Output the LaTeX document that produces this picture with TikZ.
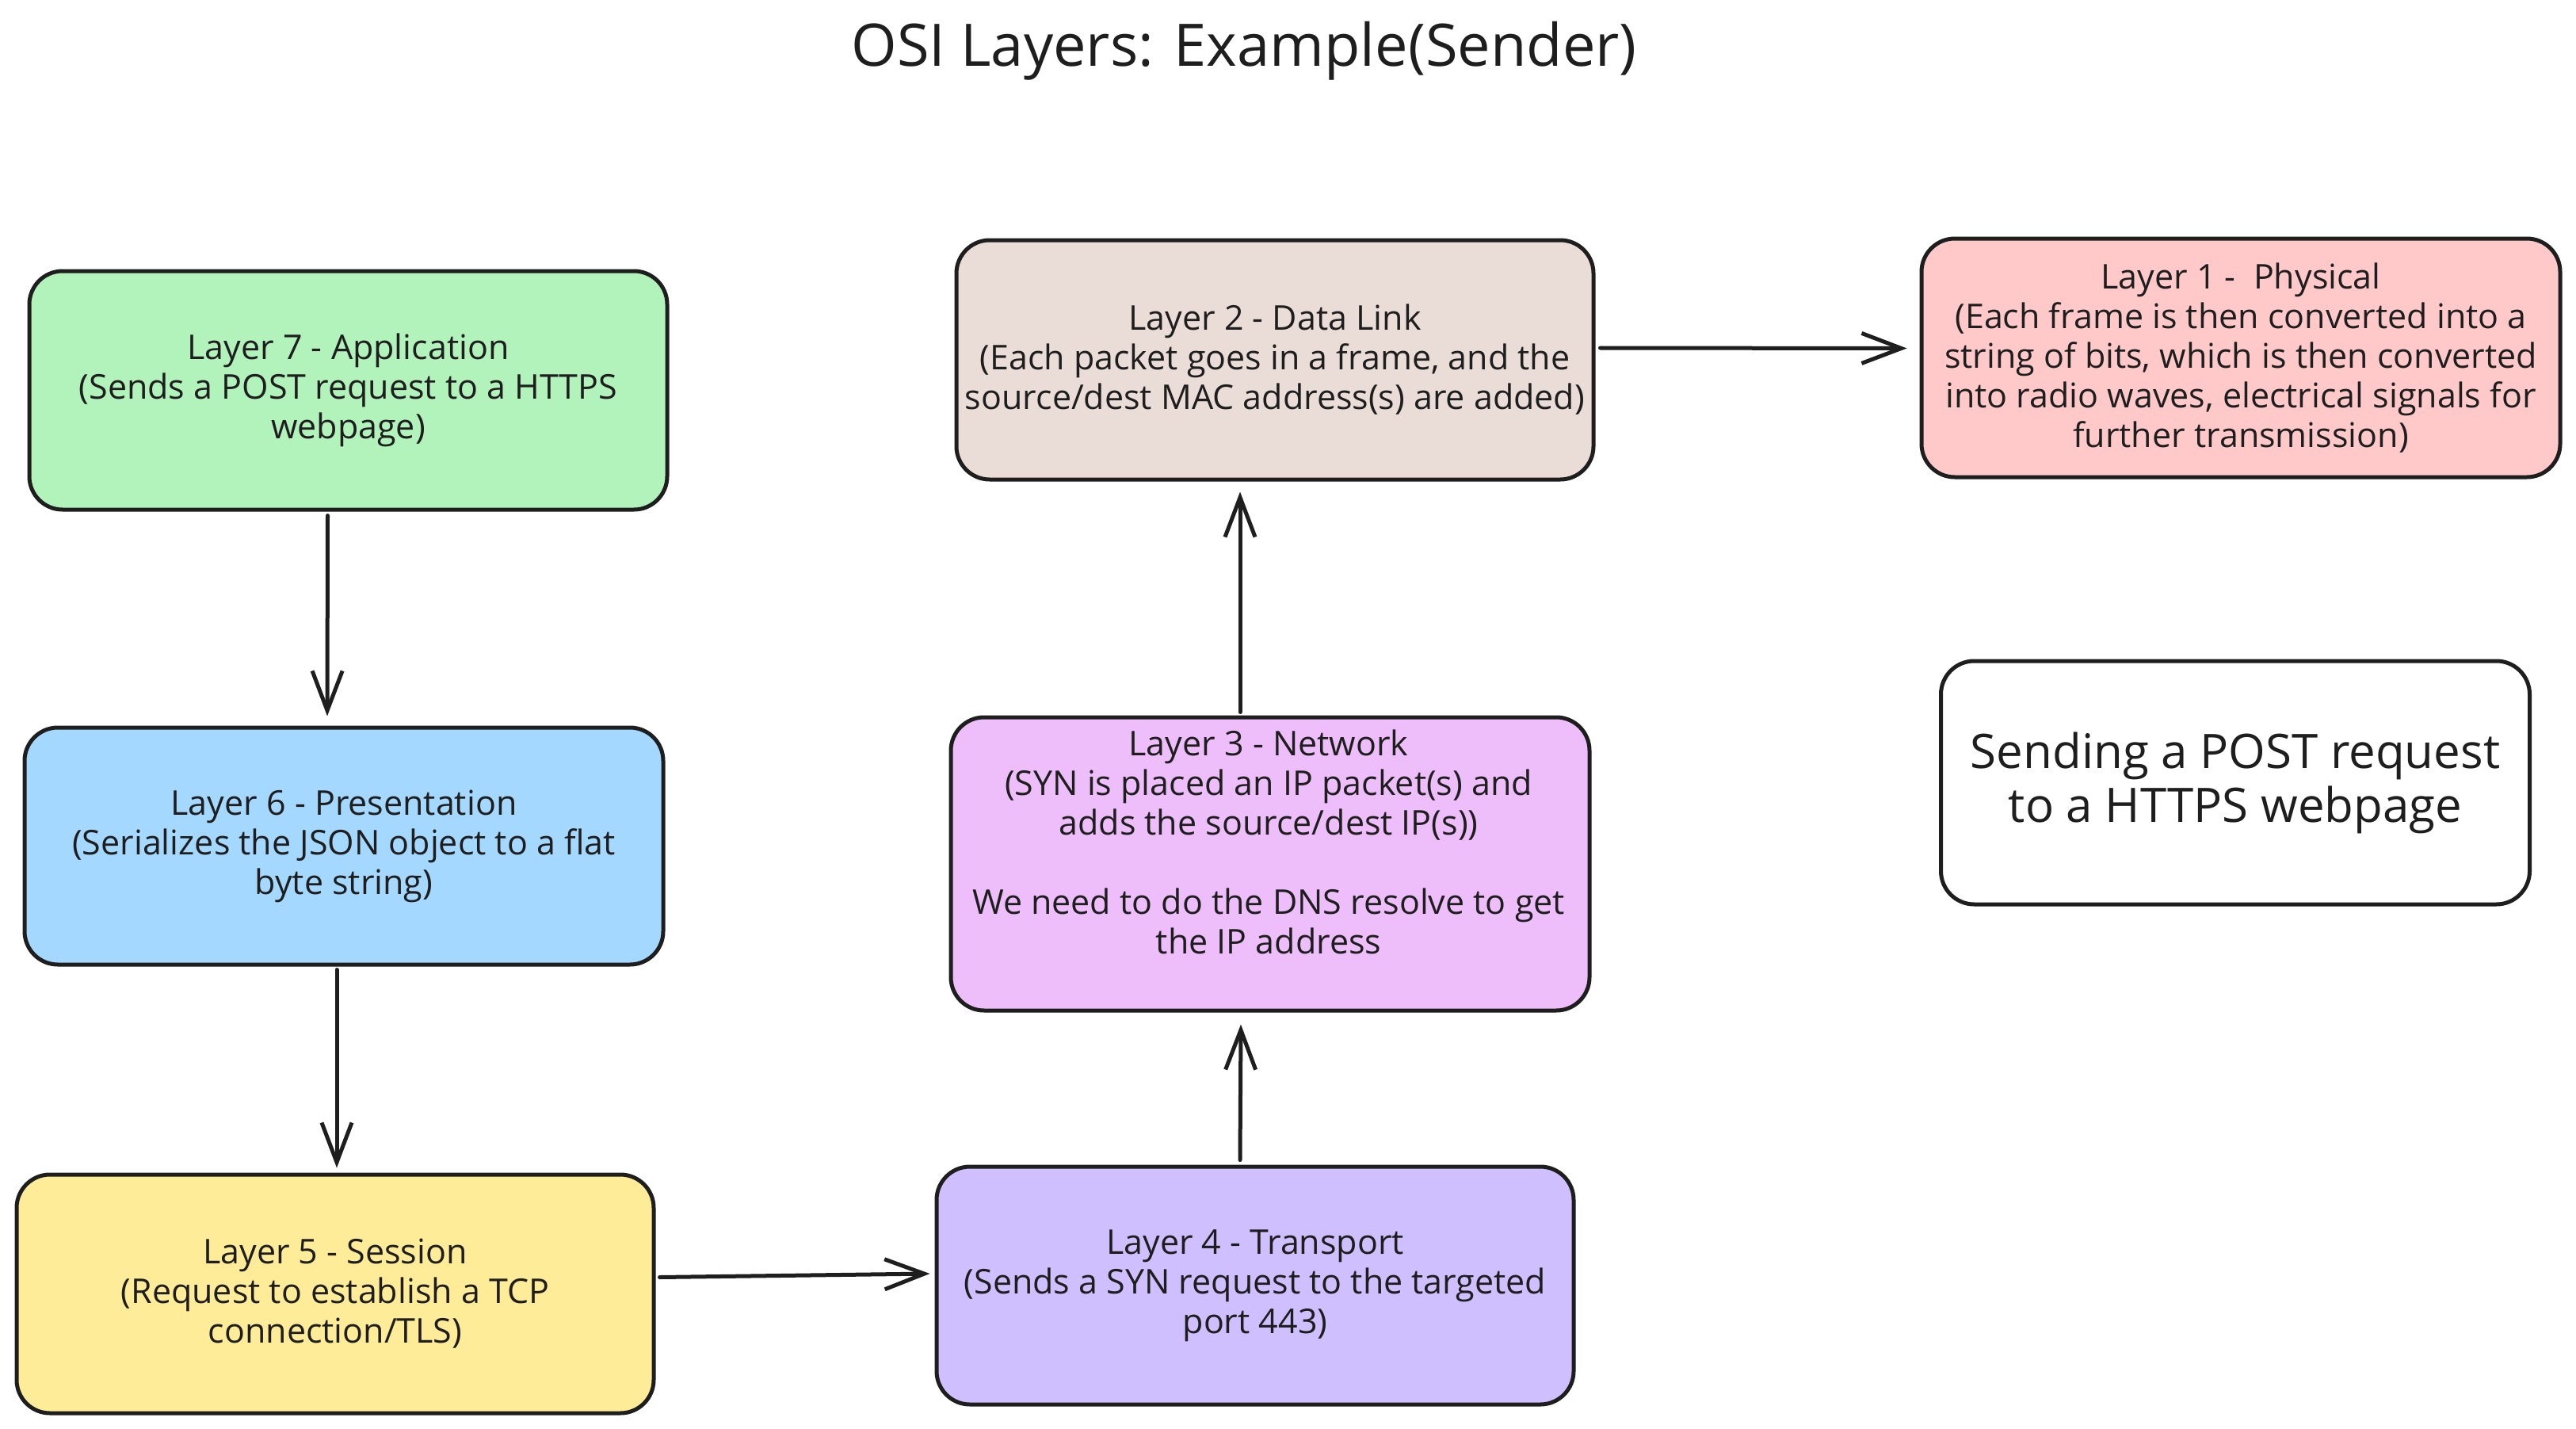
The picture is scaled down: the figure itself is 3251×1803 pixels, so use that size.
\documentclass[tikz,border=0pt]{standalone}
\usepackage{fontspec}
\setmainfont{Open Sans}
\usetikzlibrary{arrows.meta}
\definecolor{ink}{HTML}{1E1E1E}
\definecolor{cgreen}{HTML}{B2F2BB}
\definecolor{cblue}{HTML}{A5D8FF}
\definecolor{cyellow}{HTML}{FFEC99}
\definecolor{cviolet}{HTML}{D0BFFF}
\definecolor{cgrape}{HTML}{EEBEFA}
\definecolor{cbrown}{HTML}{EADDD7}
\definecolor{cred}{HTML}{FFC9C9}
\tikzset{
  box/.style={draw=ink, line width=5pt, rounded corners=42pt, align=center,
    text=ink, font=\fontsize{43}{50}\selectfont, inner sep=0pt},
  txt/.style={align=center, text=ink, font=\fontsize{43}{50}\selectfont, inner sep=0pt},
  arr/.style={draw=ink, line width=5pt, line cap=round,
    -{Straight Barb[length=50pt,width=38pt,line width=5pt]}},
}
\begin{document}
\begin{tikzpicture}[x=1pt,y=-1pt]
\useasboundingbox (0,0) rectangle (3251,1803);
\fill[white] (0,0) rectangle (3251,1803);

\node[txt, font=\fontsize{74}{86}\selectfont] (title) at (1570,64) {OSI Layers: Example(Sender)};

\node[box, fill=cgreen, minimum width=805pt, minimum height=301pt] (l7) at (439.5,492.5)
  {Layer 7 - Application\\(Sends a POST request to a HTTPS\\webpage)};
\node[box, fill=cblue, minimum width=806pt, minimum height=299pt] (l6) at (434,1067.5)
  {Layer 6 - Presentation\\(Serializes the JSON object to a flat\\byte string)};
\node[box, fill=cyellow, minimum width=804pt, minimum height=301pt] (l5) at (423,1632.5)
  {Layer 5 - Session\\(Request to establish a TCP\\connection/TLS)};
\node[box, fill=cviolet, minimum width=804pt, minimum height=300pt] (l4) at (1584,1622)
  {Layer 4 - Transport\\(Sends a SYN request to the targeted\\port 443)};
\node[box, fill=cgrape, minimum width=806pt, minimum height=370pt] (l3) at (1603,1090) {};
\node[txt] (l3t) at (1601,1062)
  {Layer 3 - Network\\(SYN is placed an IP packet(s) and\\adds the source/dest IP(s))\\[50pt]We need to do the DNS resolve to get\\the IP address};
\node[box, fill=cbrown, minimum width=804pt, minimum height=302pt] (l2) at (1609,454)
  {Layer 2 - Data Link\\(Each packet goes in a frame, and the\\source/dest MAC address(s) are added)};
\node[box, fill=cred, minimum width=806pt, minimum height=301pt] (l1) at (2828,451.5)
  {Layer 1 -\ \ Physical\\(Each frame is then converted into a\\string of bits, which is then converted\\into radio waves, electrical signals for\\further transmission)};
\node[box, fill=white, minimum width=743pt, minimum height=307pt,
  font=\fontsize{60}{68}\selectfont] (note) at (2821,987.5)
  {Sending a POST request\\to a HTTPS webpage};

\draw[arr] ([xshift=-26pt,yshift=-5pt]l7.south) -- ([xshift=-21pt,yshift=12pt]l6.north);
\draw[arr] ([xshift=-9pt,yshift=-4pt]l6.south) -- ([xshift=2pt,yshift=6pt]l5.north);
\draw[arr] ([xshift=5pt,yshift=21pt]l5.east) -- ([xshift=-6pt,yshift=15pt]l4.west);
\draw[arr] ([xshift=-19pt,yshift=6pt]l4.north) -- ([xshift=-37pt,yshift=-15pt]l3.south);
\draw[arr] ([xshift=-38pt,yshift=4pt]l3.north) -- ([xshift=-44pt,yshift=-13pt]l2.south);
\draw[arr] ([xshift=6pt,yshift=15pt]l2.east) -- ([xshift=-16pt,yshift=12pt]l1.west);
\end{tikzpicture}
\end{document}
